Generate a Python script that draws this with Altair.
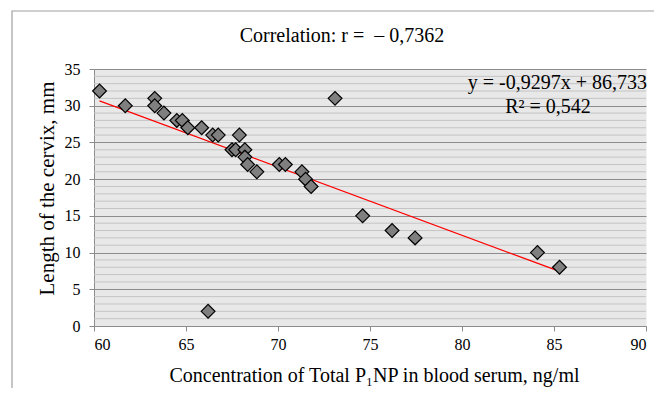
import altair as alt
import pandas as pd

# Data
p1np = [60.3, 61.7, 63.3, 63.3, 63.8, 64.5, 64.8, 65.1, 65.85, 66.45, 66.75, 67.9,
        67.5, 67.7, 68.2, 68.2, 68.35, 68.85, 70.07, 70.4, 71.3, 71.5, 71.8, 73.1,
        74.6, 76.2, 77.45, 84.1, 85.3, 66.2]
cervix = [32, 30, 31, 30, 29, 28, 28, 27, 27, 26, 26, 26,
          24, 24, 24, 23, 22, 21, 22, 22, 21, 20, 19, 31,
          15, 13, 12, 10, 8, 2]

x_ticks = [60, 65, 70, 75, 80, 85, 90]
y_major = [0, 5, 10, 15, 20, 25, 30, 35]
y_minor = [v for v in range(0, 36) if v % 5 != 0]

slope = -0.9297
intercept = 86.733
trend_x = [60.3, 85.3]

title_text = "Correlation: r =\u00a0 \u2013 0,7362"
eq_text = "y = -0,9297x + 86,733"
r2_text = "R\u00b2 = 0,542"
x_title = "Concentration of Total P\u2081NP in blood serum, ng/ml"
y_title = "Length of the cervix, mm"

FONT = "Liberation Serif"
W, H = 552, 257
TFS = 20

pts = pd.DataFrame({"x": p1np, "y": cervix})
trend = pd.DataFrame({"x": trend_x})
minor = pd.DataFrame({"y": y_minor})

xs = alt.Scale(domain=[60, 90], nice=False, zero=False)
ys = alt.Scale(domain=[0, 35], nice=False, zero=False)

x_axis = alt.Axis(values=x_ticks, grid=False, title=x_title, titleFont=FONT,
                  titleFontSize=20, titleFontWeight="normal", titleColor="#000",
                  titleX=280, titleY=49, titleAlign="center", titleBaseline="middle",
                  labelFont=FONT, labelFontSize=16, labelColor="#000",
                  domainColor="#8c8c8c", tickColor="#8c8c8c", tickSize=5,
                  labelPadding=5)
y_axis = alt.Axis(values=y_major, grid=True, gridColor="#8c8c8c", gridWidth=1,
                  title=y_title, titleFont=FONT, titleFontSize=21,
                  titleFontWeight="normal", titleColor="#000",
                  titleX=-47, titleY=119, titleAlign="center", titleBaseline="middle",
                  titleAngle=270,
                  labelFont=FONT, labelFontSize=16, labelColor="#000",
                  domainColor="#8c8c8c", tickColor="#8c8c8c", tickSize=5,
                  labelPadding=9)

X = alt.X("x:Q", scale=xs, axis=x_axis)
Y = alt.Y("y:Q", scale=ys, axis=y_axis)

minor_rules = alt.Chart(minor).mark_rule(color="#c4c4c4", strokeWidth=1).encode(y=Y)

points = alt.Chart(pts).mark_point(
    shape="diamond", filled=True, fill="#7f7f7f", stroke="#000", strokeWidth=1.2,
    size=190, opacity=1
).encode(x=X, y=Y)

line = alt.Chart(trend).transform_calculate(
    y=f"{slope} * datum.x + {intercept}"
).mark_line(color="#ff0000", strokeWidth=1.3).encode(x=X, y=Y)

one = pd.DataFrame({"a": [0]})
eq = alt.Chart(one).mark_text(font=FONT, fontSize=TFS, align="right", baseline="middle",
                              color="#000").encode(
    x=alt.value(W + 1), y=alt.value(13.5), text=alt.value(eq_text))
r2 = alt.Chart(one).mark_text(font=FONT, fontSize=TFS, align="center", baseline="middle",
                              color="#000").encode(
    x=alt.value(454), y=alt.value(38), text=alt.value(r2_text))
ttl = alt.Chart(one).mark_text(font=FONT, fontSize=TFS, align="center", baseline="middle",
                               color="#000").encode(
    x=alt.value(248), y=alt.value(-33), text=alt.value(title_text))

border = alt.Chart(one).mark_rect(fill="transparent", stroke="#a0a0a0",
                                  strokeWidth=1.2).encode(
    x=alt.value(-82), y=alt.value(-58), x2=alt.value(700), y2=alt.value(500))

chart = alt.layer(border, minor_rules, line, points, eq, r2, ttl).properties(
    width=W, height=H,
    autosize=alt.AutoSizeParams(type="none"),
    padding={"left": 86, "top": 61, "right": 8, "bottom": 62},
    background="#ffffff",
).configure_view(fill="#e8e8e8", stroke="transparent")

chart.save("out.html", embed_options={"renderer": "svg", "actions": False})
